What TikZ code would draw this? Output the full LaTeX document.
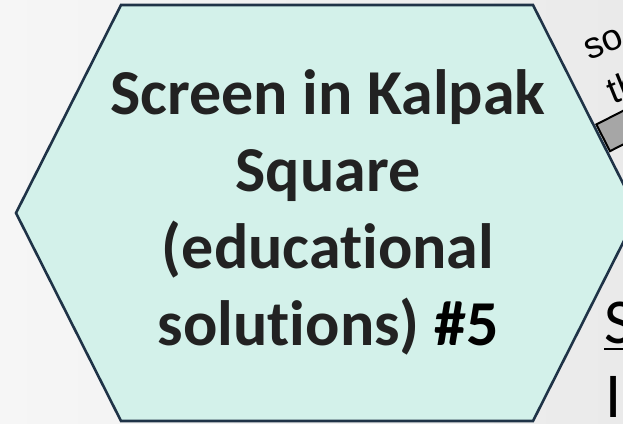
\documentclass[tikz,border=0pt]{standalone}
\usepackage{fontspec}
\setmainfont{Carlito}[Ligatures={NoCommon}]
\newfontfamily\arialfont{Liberation Sans}
\definecolor{bgA}{HTML}{F6F6F6}
\definecolor{bgB}{HTML}{EAEAEA}
\definecolor{mint}{HTML}{D3F1EA}
\definecolor{hexline}{HTML}{1F3347}
\definecolor{txt}{HTML}{222222}
\definecolor{barfill}{HTML}{A6A6A6}
\tikzset{
  hexbox/.style={draw=hexline, line width=2.6pt, fill=mint, line join=miter},
  hextext/.style={font=\bfseries\fontsize{64}{77}\selectfont, text=txt, align=center, inner sep=0pt},
  sidetext/.style={font=\fontsize{64}{74}\selectfont, text=black, inner sep=0pt},
  smalltext/.style={font=\arialfont\fontsize{37}{50}\selectfont, text=black, inner sep=0pt, align=left},
  barbox/.style={draw=black, line width=2pt, fill=barfill, minimum width=90pt, minimum height=30pt, inner sep=0pt}
}
\begin{document}
\begin{tikzpicture}[x=1pt,y=-1pt]
\useasboundingbox (0,0) rectangle (623,423);
\begin{scope}
\clip (0,0) rectangle (623,423);
\shade[left color=bgA, right color=bgB] (0,0) rectangle (623,423);
% partial neighbour elements on the right
\node[smalltext, rotate=22, anchor=base west] (so) at (608,107) {so\\\hspace*{6pt}th};
\node[barbox, rotate=27, anchor=north west] (bar) at (595,124) {};
% hexagon
\path[hexbox] (16,213) -- (121,5) -- (533,5) -- (638,213) -- (533,421) -- (121,421) -- cycle;
\node[hextext, anchor=base] (title) at (328,345) {Screen in Kalpak\\Square\\(educational\\solutions) \textcolor{black}{\#5}};
\node[sidetext, anchor=base west] (S) at (604,343) {S};
\node[sidetext, anchor=base west] (I) at (605,417) {I};
\draw[line width=2.6pt] ([yshift=-6pt]S.base west) -- ([yshift=-6pt,xshift=20pt]S.base east);
\end{scope}
\end{tikzpicture}
\end{document}
